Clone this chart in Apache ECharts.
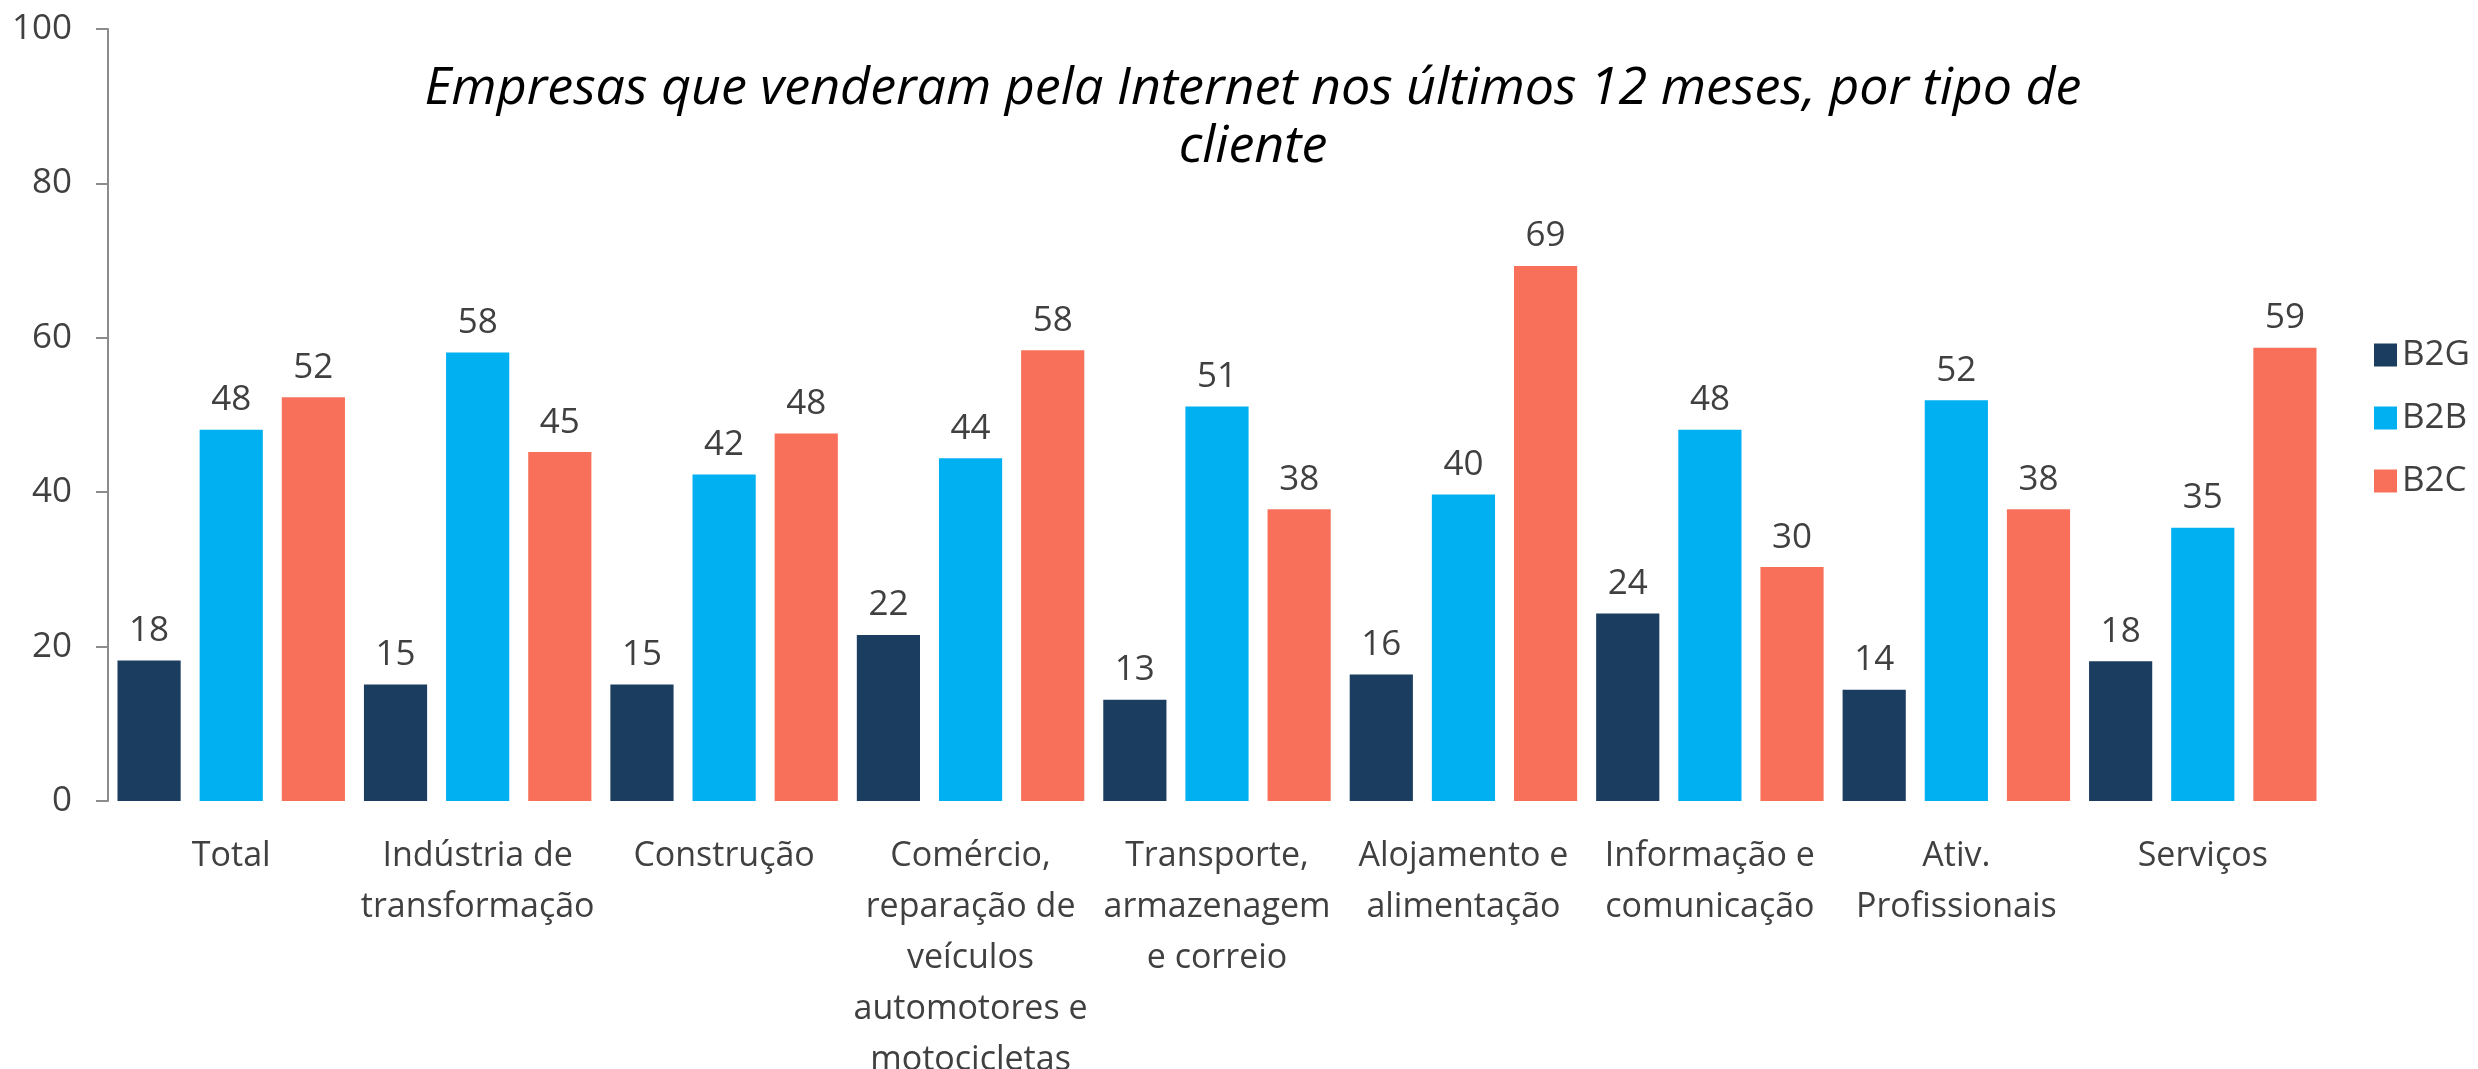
<!DOCTYPE html>
<html>
<head>
<meta charset="utf-8">
<script src="https://cdn.jsdelivr.net/npm/echarts@6/dist/echarts.min.js"></script>
<style>html,body{margin:0;padding:0;background:#fff}#c{width:2478px;height:1069px}</style>
</head>
<body>
<div id="c"></div>
<script>
const titleText = 'Empresas que venderam pela Internet nos últimos 12 meses, por tipo de\ncliente';
const categories = ['Total', 'Indústria de\ntransformação', 'Construção', 'Comércio,\nreparação de\nveículos\nautomotores e\nmotocicletas', 'Transporte,\narmazenagem\ne correio', 'Alojamento e\nalimentação', 'Informação e\ncomunicação', 'Ativ.\nProfissionais', 'Serviços'];
const seriesNames = ['B2G', 'B2B', 'B2C'];
const b2g = [18.2, 15.1, 15.1, 21.5, 13.1, 16.4, 24.3, 14.4, 18.1];
const b2b = [48.1, 58.1, 42.3, 44.4, 51.1, 39.7, 48.1, 51.9, 35.4];
const b2c = [52.3, 45.2, 47.6, 58.4, 37.8, 69.3, 30.3, 37.8, 58.7];
const yTicks = [0, 20, 40, 60, 80, 100];

const FONT = '"Open Sans", "Noto Sans", sans-serif';
const TXT = '#404040';
const colors = ['#1B3D5F', '#00B0F0', '#F9705A'];

const chart = echarts.init(document.getElementById('c'), null, {renderer: 'canvas'});
const mk = (name, data, color) => ({
  name, type: 'bar', data,
  barGap: '30%', barCategoryGap: '7.7%',
  itemStyle: {color},
  label: {show: true, position: 'top', distance: 12, color: TXT, fontFamily: FONT, fontSize: 35,
    formatter: p => Math.round(p.value)}
});
chart.setOption({
  animation: false,
  textStyle: {fontFamily: FONT},
  title: {
    text: titleText, left: 1248, top: 55, textAlign: 'center',
    textStyle: {fontFamily: FONT, fontStyle: 'italic', fontWeight: 'normal', fontSize: 52, lineHeight: 58, color: '#000'}
  },
  legend: {
    orient: 'vertical', left: 2369, top: 332, itemWidth: 23, itemHeight: 23, itemGap: 27,
    icon: 'rect', data: seriesNames,
    textStyle: {fontFamily: FONT, fontSize: 35, lineHeight: 36, color: TXT}
  },
  grid: {left: 108, right: 152, top: 29, bottom: 268, containLabel: false, outerBoundsMode: 'none'},
  xAxis: {
    type: 'category', data: categories,
    axisLine: {show: false}, axisTick: {show: false},
    axisLabel: {interval: 0, margin: 30, color: TXT, fontFamily: FONT, fontSize: 34, lineHeight: 51}
  },
  yAxis: {
    type: 'value', min: yTicks[0], max: yTicks[yTicks.length - 1], interval: 20,
    splitLine: {show: false},
    axisLine: {show: true, lineStyle: {color: '#8C8C8C', width: 2}},
    axisTick: {show: true, inside: false, length: 12, lineStyle: {color: '#8C8C8C', width: 2}},
    axisLabel: {margin: 36, color: TXT, fontFamily: FONT, fontSize: 35}
  },
  series: [mk(seriesNames[0], b2g, colors[0]), mk(seriesNames[1], b2b, colors[1]), mk(seriesNames[2], b2c, colors[2])]
});
</script>
</body>
</html>
